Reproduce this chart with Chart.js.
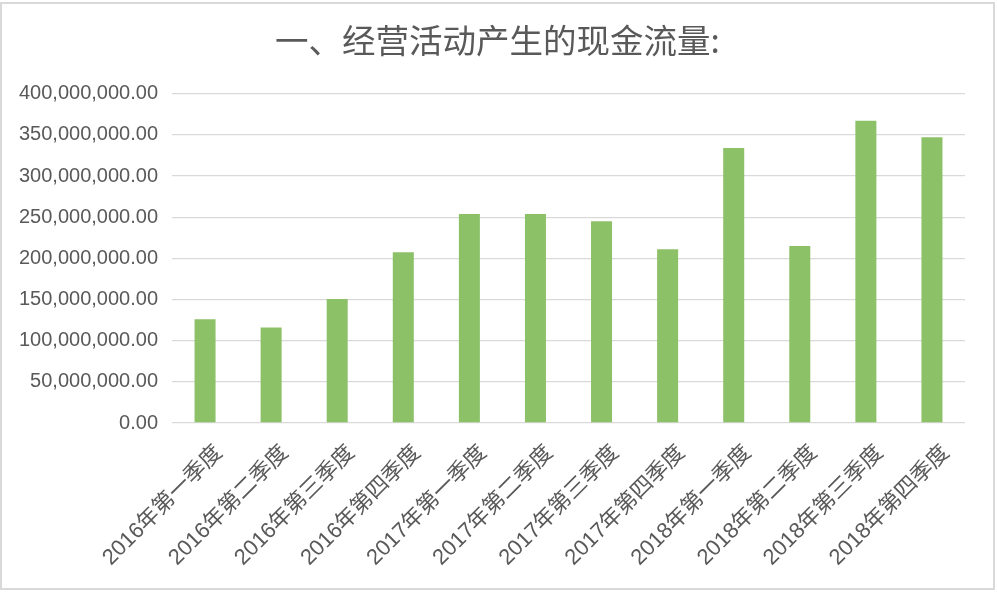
<!DOCTYPE html>
<html>
<head>
<meta charset="utf-8">
<script src="https://cdn.jsdelivr.net/npm/chart.js@4"></script>
<style>
    body { margin: 0; background: #fff; }
    #frame {
        position: absolute; left: 0; top: 2px;
        width: 995px; height: 588px;
        border: 2px solid #d9d9d9; box-sizing: border-box;
    }
    #chart { display: block; }
</style>
</head>
<body>
<div id="frame"><canvas id="chart" width="991" height="584"></canvas></div>
<script>
// quarters on the x axis
const quarters = [
    '2016年第一季度', '2016年第二季度', '2016年第三季度', '2016年第四季度',
    '2017年第一季度', '2017年第二季度', '2017年第三季度', '2017年第四季度',
    '2018年第一季度', '2018年第二季度', '2018年第三季度', '2018年第四季度'
];
// operating cash flow per quarter
const cashFlow = [
    126000000, 116000000, 150500000, 207500000,
    254000000, 254000000, 245000000, 211000000,
    334000000, 215000000, 367000000, 347000000
];
const yMin = 0;
const yMax = 400000000;
const yStep = 50000000;

const titleText = '一、经营活动产生的现金流量:';
const textColor = '#595959';
const barColor = '#8cc168';
const gridColor = '#d9d9d9';
const fontFamily = '"Liberation Sans", "Noto Sans CJK SC", sans-serif';

new Chart(document.getElementById('chart'), {
    type: 'bar',
    data: {
        labels: quarters,
        datasets: [{
            label: titleText,
            data: cashFlow,
            backgroundColor: barColor,
            categoryPercentage: 1,
            barPercentage: 0.318
        }]
    },
    options: {
        responsive: false,
        animation: false,
        layout: { padding: 0 },
        plugins: {
            legend: { display: false },
            tooltip: { enabled: false },
            title: {
                display: true,
                text: titleText,
                color: textColor,
                font: { family: '"Noto Sans CJK SC", sans-serif', size: 33.5, weight: 'normal' },
                padding: { top: 16, bottom: 33.5 }
            }
        },
        scales: {
            x: {
                grid: { display: false },
                border: { display: false },
                ticks: {
                    autoSkip: false,
                    minRotation: 45,
                    maxRotation: 45,
                    color: textColor,
                    font: { family: fontFamily, size: 22 },
                    padding: 9,
                    labelOffset: 14
                },
                afterFit: (scale) => { scale.height = 165; }
            },
            y: {
                min: yMin,
                max: yMax,
                grid: { color: gridColor, lineWidth: 1.3, drawTicks: false },
                border: { display: false },
                ticks: {
                    stepSize: yStep,
                    color: textColor,
                    padding: 14,
                    font: { family: fontFamily, size: 20 },
                    callback: (v) => Number(v).toLocaleString('en-US', { minimumFractionDigits: 2, maximumFractionDigits: 2 })
                },
                afterFit: (scale) => { scale.width = 170; }
            },
            // empty right-hand strip, keeps the plot off the frame edge
            yRight: {
                position: 'right',
                grid: { display: false },
                border: { display: false },
                ticks: { display: false },
                afterFit: (scale) => { scale.width = 28; }
            }
        }
    }
});
</script>
</body>
</html>
